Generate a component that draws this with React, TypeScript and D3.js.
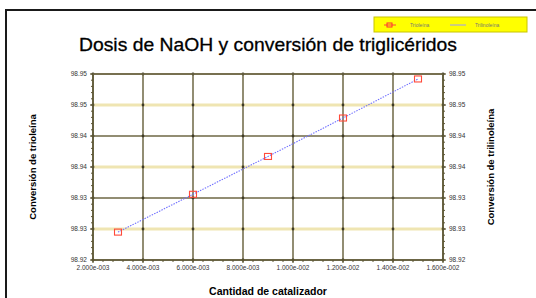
import React from "react";
import * as d3 from "d3";

const dosis = [0.003, 0.006, 0.009, 0.012, 0.015];
const trioleina = [98.9245, 98.9306, 98.9367, 98.9429, 98.9492];
const trilinoleina = [98.9245, 98.9306, 98.9367, 98.9429, 98.9492];
const xTicks = [0.002, 0.004, 0.006, 0.008, 0.01, 0.012, 0.014, 0.016];
const xTickLabels = ["2.000e-003", "4.000e-003", "6.000e-003", "8.000e-003", "1.000e-002", "1.200e-002", "1.400e-002", "1.600e-002"];
const yTicks = [98.92, 98.925, 98.93, 98.935, 98.94, 98.945, 98.95];
const yTickLabels = ["98.92", "98.93", "98.93", "98.94", "98.94", "98.95", "98.95"];

const width = 536;
const height = 298;
const margin = { top: 74, right: 93, bottom: 38, left: 93 };

const axisColor = "#5e5836";
const gridDark = "#6e6744";
const gridPale = "#efe5b2";
const font = "'Liberation Sans', Arial, sans-serif";

const App = () => {
  const x = d3
    .scaleLinear()
    .domain([0.002, 0.016])
    .range([margin.left, width - margin.right]);

  const y = d3
    .scaleLinear()
    .domain([98.92, 98.95])
    .range([height - margin.bottom, margin.top]);

  const pts = dosis.map((d, i) => ({ x: d, a: trioleina[i], b: trilinoleina[i] }));

  const line = d3
    .line<{ x: number; b: number }>()
    .x((d) => x(d.x))
    .y((d) => y(d.b));

  const x0 = x.range()[0];
  const x1 = x.range()[1];
  const y0 = y.range()[0];
  const y1 = y.range()[1];

  // minor ticks
  const xMinor = d3.range(0.002, 0.01601, 0.0004);
  const yMinor = d3.range(98.92, 98.95001, 0.001);

  return (
    <svg
      width={width}
      height={height}
      style={{ position: "absolute", left: 0, top: 0, background: "#fff" }}
    >
      <rect x={6} y={10} width={540} height={300} fill="#fff" stroke="#1a1a1a" strokeWidth={2} />

      {/* legend */}
      <rect x={374} y={17} width={153} height={15} fill="#ffff00" stroke="#c8c400" strokeWidth={1} />
      <line x1={384} x2={396} y1={25} y2={25} stroke="#ff4040" strokeWidth={1} />
      <rect x={387} y={23} width={5} height={4} fill="none" stroke="#ff3030" strokeWidth={1} />
      <text x={410} y={27} fontSize={5} fill="#777" fontFamily={font}>Trioleína</text>
      <line x1={450} x2={466} y1={25} y2={25} stroke="#9a9aff" strokeWidth={1} />
      <text x={475} y={27} fontSize={5} fill="#777" fontFamily={font}>Trilinoleína</text>

      {/* title */}
      <text
        x={268}
        y={51}
        textAnchor="middle"
        fontSize={19}
        fontFamily={font}
        fill="#000"
        stroke="#000"
        strokeWidth={0.3}
        textLength={378}
        lengthAdjust="spacingAndGlyphs"
      >
        Dosis de NaOH y conversión de triglicéridos
      </text>

      {/* grid */}
      {yTicks.map((t, i) => (
        <line
          key={"gy" + i}
          x1={x0}
          x2={x1}
          y1={y(t)}
          y2={y(t)}
          stroke={i % 2 === 1 ? gridPale : gridDark}
          strokeWidth={i % 2 === 1 ? 3 : 1.5}
        />
      ))}
      {xTicks.map((t, i) => (
        <line key={"gx" + i} x1={x(t)} x2={x(t)} y1={y0} y2={y1} stroke={gridDark} strokeWidth={1.5} />
      ))}
      {yTicks.map((t) =>
        xTicks.map((u) => (
          <circle key={"d" + t + u} cx={x(u)} cy={y(t)} r={1.4} fill="#3e3a26" />
        ))
      )}

      {/* axes */}
      <line x1={x0} x2={x1} y1={y0} y2={y0} stroke={axisColor} strokeWidth={1.4} />
      <line x1={x0} x2={x0} y1={y0} y2={y1} stroke={axisColor} strokeWidth={1.6} />
      <line x1={x1} x2={x1} y1={y0} y2={y1} stroke={axisColor} strokeWidth={1.6} />
      <line x1={x0} x2={x1} y1={y1} y2={y1} stroke={gridDark} strokeWidth={1.5} />
      {xMinor.map((t, i) => (
        <line key={"xm" + i} x1={x(t)} x2={x(t)} y1={y0} y2={y0 + 2} stroke={axisColor} strokeWidth={1} />
      ))}
      {yMinor.map((t, i) => (
        <g key={"ym" + i}>
          <line x1={x0 - 2} x2={x0} y1={y(t)} y2={y(t)} stroke={axisColor} strokeWidth={1} />
          <line x1={x1} x2={x1 + 2} y1={y(t)} y2={y(t)} stroke={axisColor} strokeWidth={1} />
        </g>
      ))}
      {yTicks.map((t, i) => (
        <g key={"yt" + i}>
          <line x1={x0 - 3} x2={x0} y1={y(t)} y2={y(t)} stroke={axisColor} strokeWidth={1.2} />
          <line x1={x1} x2={x1 + 3} y1={y(t)} y2={y(t)} stroke={axisColor} strokeWidth={1.2} />
          <text x={x0 - 6} y={y(t) + 2.2} textAnchor="end" fontSize={6.5} fill="#333" fontFamily={font}>
            {yTickLabels[i]}
          </text>
          <text x={x1 + 6} y={y(t) + 2.2} textAnchor="start" fontSize={6.5} fill="#333" fontFamily={font}>
            {yTickLabels[i]}
          </text>
        </g>
      ))}
      {xTicks.map((t, i) => (
        <g key={"xt" + i}>
          <line x1={x(t)} x2={x(t)} y1={y0} y2={y0 + 3} stroke={axisColor} strokeWidth={1.2} />
          <text x={x(t)} y={y0 + 10} textAnchor="middle" fontSize={6.5} fill="#333" fontFamily={font}>
            {xTickLabels[i]}
          </text>
        </g>
      ))}

      {/* series */}
      <path
        d={line(pts) || ""}
        fill="none"
        stroke="#7070ff"
        strokeWidth={1.1}
        strokeDasharray="1.5 1.2"
      />
      {pts.map((d, i) => (
        <rect
          key={"p" + i}
          x={x(d.x) - 3.5}
          y={y(d.a) - 3}
          width={7}
          height={6}
          fill="none"
          stroke="#ff4a3a"
          strokeWidth={1.1}
        />
      ))}

      {/* axis titles */}
      <text
        transform={`translate(36,${(y0 + y1) / 2}) rotate(-90)`}
        textAnchor="middle"
        fontSize={9.5}
        fontWeight="bold"
        fontFamily={font}
        fill="#000"
      >
        Conversión de trioleína
      </text>
      <text
        transform={`translate(494,${(y0 + y1) / 2}) rotate(-90)`}
        textAnchor="middle"
        fontSize={9.5}
        fontWeight="bold"
        fontFamily={font}
        fill="#000"
      >
        Conversión de trilinoleína
      </text>
      <text x={268} y={295} textAnchor="middle" fontSize={10.5} fontWeight="bold" fontFamily={font} fill="#000">
        Cantidad de catalizador
      </text>
    </svg>
  );
};

export default App;
